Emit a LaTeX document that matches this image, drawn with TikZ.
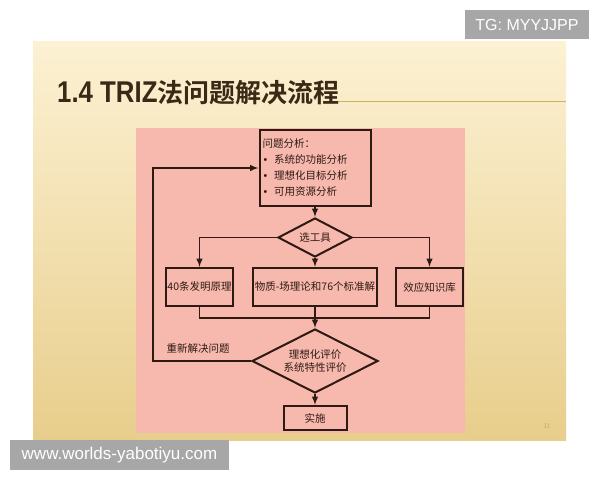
\documentclass[tikz,border=0pt]{standalone}
\usepackage{fontspec}
\setmainfont{Liberation Sans}
\newfontfamily\cjk{Noto Sans CJK SC}[BoldFont={Noto Sans CJK SC Bold}]
\newfontfamily\titlefont{Liberation Sans}[FakeStretch=0.86]
\usetikzlibrary{shapes.geometric}
\definecolor{slidetop}{HTML}{FCF1D3}
\definecolor{slidebot}{HTML}{E8CE8C}
\definecolor{panel}{HTML}{F7B9AE}
\definecolor{ink}{HTML}{2E1A12}
\definecolor{titleink}{HTML}{3B2816}
\definecolor{rule}{HTML}{D6AE5C}
\definecolor{wm}{HTML}{A7A7A7}
\begin{document}
\begin{tikzpicture}[>=latex, x=1pt, y=-1pt,
  box/.style={draw=ink, line width=2pt, text=ink, inner sep=0pt, font=\cjk\fontsize{10.5}{13}\selectfont},
  choice/.style={diamond, aspect=2, draw=ink, line width=2pt, text=ink, inner sep=0pt, align=center, font=\cjk\fontsize{10.5}{13}\selectfont},
  link/.style={draw=ink, line width=1.9pt},
  wmark/.style={fill=wm, text=white, inner sep=0pt}]
\useasboundingbox (0,0) rectangle (600,480);
\fill[white] (0,0) rectangle (600,480);
\shade[top color=slidetop, bottom color=slidebot] (33,41) rectangle (566,440);
\draw[rule, line width=1pt] (330,101)--(566,101);
\node[anchor=base west, text=titleink, inner sep=0pt] (title) at (57,102) {\titlefont\bfseries\fontsize{30}{30}\selectfont 1.4 TRIZ\cjk\fontsize{26}{26}\selectfont 法问题解决流程};
\fill[panel] (136,128) rectangle (465,433);
% flow chart
\node[box, minimum width=111pt, minimum height=76pt, text width=105pt, inner xsep=3pt, align=left, font=\cjk\fontsize{10.5}{16}\selectfont] (prob) at (315,168) {问题分析：\\ \hspace*{1pt}{\normalfont\textbullet}\hspace{7pt}系统的功能分析\\ \hspace*{1pt}{\normalfont\textbullet}\hspace{7pt}理想化目标分析\\ \hspace*{1pt}{\normalfont\textbullet}\hspace{7pt}可用资源分析};
\node[choice, minimum width=74pt, minimum height=39pt] (tool) at (315,237.5) {选工具};
\node[box, minimum width=67pt, minimum height=38pt] (b1) at (199.5,287) {40条发明原理};
\node[box, minimum width=124pt, minimum height=38pt] (b2) at (315,287) {物质-场理论和76个标准解};
\node[box, minimum width=67pt, minimum height=38pt] (b3) at (429.5,287) {效应知识库};
\node[choice, minimum width=126pt, minimum height=64pt] (eval) at (315,361) {理想化评价\\系统特性评价};
\node[box, minimum width=63pt, minimum height=24pt] (impl) at (315,418) {实施};
\node[text=ink, font=\cjk\fontsize{10.5}{13}\selectfont] (redo) at (198,348) {重新解决问题};
\coordinate (merge) at (315,318);
\coordinate (back) at (153,168);
\draw[link,->] (prob) -- (tool);
\draw[link,->] (tool.west) -| (b1);
\draw[link,->] (tool.east) -| (b3);
\draw[link,->] (tool) -- (b2);
\draw[link] (b1) |- (merge) -| (b3);
\draw[link] (b2) -- (merge);
\draw[link,->] (merge) -- (eval);
\draw[link,->] (eval) -- (impl);
\draw[link,->] (eval.west) -| (back) -- (prob.west |- back);
\node[text=rule, font=\fontsize{7}{7}\selectfont] (page) at (547,426) {11};
% watermarks
\node[wmark, minimum width=124pt, minimum height=29pt, font=\fontsize{16}{16}\selectfont] (tg) at (527,24.5) {TG: MYYJJPP};
\node[wmark, minimum width=219pt, minimum height=30pt, font=\fontsize{17}{17}\selectfont] (site) at (119.5,455) {www.worlds-yabotiyu.com};
\end{tikzpicture}
\end{document}
